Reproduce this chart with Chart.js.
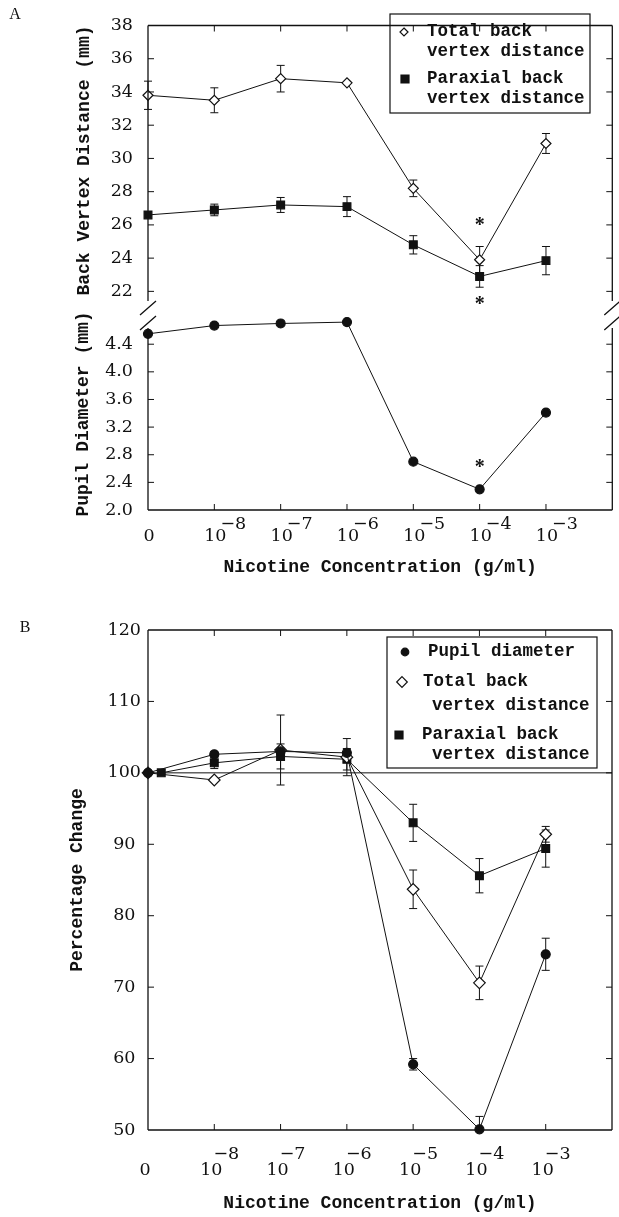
<!DOCTYPE html>
<html>
<head>
<meta charset="utf-8">
<script src="https://cdn.jsdelivr.net/npm/chart.js@4.4.1/dist/chart.umd.min.js"></script>
<style>
  html, body { margin: 0; padding: 0; background: #fff; }
  #wrapA { position: absolute; left: 0; top: 0; width: 619px; height: 590px; }
  #wrapB { position: absolute; left: 0; top: 590px; width: 619px; height: 627px; }
</style>
</head>
<body>
<div id="wrapA"><canvas id="chartA"></canvas></div>
<div id="wrapB"><canvas id="chartB"></canvas></div>
<script>
// x axis: 0 = control, then 10^-8 ... 10^-3 g/ml nicotine
const xPos  = [0, 1, 2, 3, 4, 5, 6];
const xBase = ['0', '10', '10', '10', '10', '10', '10'];
const xExp  = ['', '\u22128', '\u22127', '\u22126', '\u22125', '\u22124', '\u22123'];

// panel A - absolute values (mm)
const totalBVD   = [33.8, 33.5, 34.8, 34.55, 28.2, 23.9, 30.9];
const totalBVDse = [0.85, 0.75, 0.8, 0, 0.5, 0.8, 0.6];
const paraxBVD   = [26.6, 26.9, 27.2, 27.1, 24.8, 22.9, 23.85];
const paraxBVDse = [0, 0.35, 0.45, 0.6, 0.55, 0.65, 0.85];
const pupilDiam  = [4.55, 4.67, 4.70, 4.72, 2.70, 2.30, 3.41];
const bvdTicks   = [22, 24, 26, 28, 30, 32, 34, 36, 38];
const pupilTicks = [2.0, 2.4, 2.8, 3.2, 3.6, 4.0, 4.4];
const legendA    = [['Total back', 'vertex distance'], ['Paraxial back', 'vertex distance']];

// panel B - percentage of control
const pupilPct   = [100, 102.6, 103.0, 102.8, 59.2, 50.1, 74.6];
const pupilPctSe = [0, 0.4, 0.4, 0.5, 0.8, 1.8, 2.25];
const totalPct   = [100, 99.0, 103.2, 102.2, 83.7, 70.6, 91.4];
const totalPctSe = [0, 0, 4.9, 2.6, 2.7, 2.35, 1.1];
const paraxPct   = [100, 101.4, 102.3, 101.9, 93.0, 85.6, 89.4];
const paraxPctSe = [0, 0.8, 1.75, 1.5, 2.6, 2.4, 2.6];
const paraxPctX  = [0.2, 1, 2, 3, 4, 5, 6];
const pctTicks   = [50, 60, 70, 80, 90, 100, 110, 120];
const pctControl = 100;
const legendB    = [['Pupil diameter'], ['Total back', 'vertex distance'], ['Paraxial back', 'vertex distance']];

// significant differences (*) : dataset index, point index
const sigA = [[0, 5], [1, 5], [2, 5]];

const INK = '#111';
const SERIF = 'DejaVu Serif';
const MONO = 'Liberation Mono';
Chart.defaults.font.family = SERIF;
Chart.defaults.color = INK;

function xy(xs, ys) { return xs.map((x, i) => ({x: x, y: ys[i]})); }
function fixTicks(list) { return s => { s.ticks = list.map(v => ({value: v})); }; }

function drawMarker(ctx, style, x, y, r, fill) {
  ctx.beginPath();
  if (style === 'circle') {
    ctx.arc(x, y, r, 0, Math.PI * 2);
  } else if (style === 'rectRot') {
    ctx.moveTo(x, y - r); ctx.lineTo(x + r, y); ctx.lineTo(x, y + r); ctx.lineTo(x - r, y); ctx.closePath();
  } else {
    ctx.rect(x - r, y - r, 2 * r, 2 * r);
  }
  ctx.fillStyle = fill;
  ctx.fill();
  ctx.lineWidth = 1.2;
  ctx.strokeStyle = INK;
  ctx.stroke();
}

const figure = {
  id: 'figure',
  beforeDatasetsDraw(chart, args, o) {
    const {ctx, chartArea: a} = chart;
    ctx.save();
    ctx.strokeStyle = INK;
    ctx.lineWidth = 1;
    if (o.refLine !== undefined) {
      const y = chart.scales.y.getPixelForValue(o.refLine);
      ctx.beginPath(); ctx.moveTo(a.left, y); ctx.lineTo(a.right, y); ctx.stroke();
    }
    // error bars
    ctx.beginPath(); ctx.rect(a.left - 20, a.top, a.width + 40, a.height); ctx.clip();
    chart.data.datasets.forEach((ds, di) => {
      if (!ds.errors) return;
      const meta = chart.getDatasetMeta(di);
      const ys = chart.scales[meta.yAxisID];
      meta.data.forEach((pt, i) => {
        const e = ds.errors[i];
        if (!e) return;
        const v = ds.data[i].y;
        const y1 = ys.getPixelForValue(v + e), y2 = ys.getPixelForValue(v - e);
        ctx.beginPath();
        ctx.moveTo(pt.x, y1); ctx.lineTo(pt.x, y2);
        ctx.moveTo(pt.x - 4, y1); ctx.lineTo(pt.x + 4, y1);
        ctx.moveTo(pt.x - 4, y2); ctx.lineTo(pt.x + 4, y2);
        ctx.stroke();
      });
    });
    ctx.restore();
  },
  afterDraw(chart, args, o) {
    const {ctx, chartArea: a, scales} = chart;
    ctx.save();
    ctx.strokeStyle = INK;
    ctx.fillStyle = INK;
    ctx.lineWidth = 1.3;

    // frame, with optional axis break
    ctx.beginPath();
    ctx.moveTo(a.left, a.top); ctx.lineTo(a.right, a.top);
    ctx.moveTo(a.left, a.bottom); ctx.lineTo(a.right, a.bottom);
    if (o.breakAxis) {
      const yb = scales[o.breakAxis].top;
      [a.left, a.right].forEach(x => {
        ctx.moveTo(x, a.top); ctx.lineTo(x, yb - 17);
        ctx.moveTo(x, yb + 10); ctx.lineTo(x, a.bottom);
        ctx.moveTo(x - 8, yb - 3); ctx.lineTo(x + 8, yb - 17);
        ctx.moveTo(x - 8, yb + 12); ctx.lineTo(x + 8, yb - 2);
      });
    } else {
      ctx.moveTo(a.left, a.top); ctx.lineTo(a.left, a.bottom);
      ctx.moveTo(a.right, a.top); ctx.lineTo(a.right, a.bottom);
    }
    ctx.stroke();

    // inward ticks on all four sides
    const tl = 6;
    ctx.lineWidth = 1;
    ctx.beginPath();
    Object.values(scales).forEach(s => {
      s.ticks.forEach(t => {
        const p = s.getPixelForValue(t.value);
        if (s.isHorizontal()) {
          if (p <= a.left + 1 || p >= a.right - 1) return;
          ctx.moveTo(p, a.top); ctx.lineTo(p, a.top + tl);
          ctx.moveTo(p, a.bottom); ctx.lineTo(p, a.bottom - tl);
        } else {
          if (p <= a.top + 1 || p >= a.bottom - 1) return;
          ctx.moveTo(a.left, p); ctx.lineTo(a.left + tl, p);
          ctx.moveTo(a.right, p); ctx.lineTo(a.right - tl, p);
        }
      });
    });
    ctx.stroke();

    // x tick labels: 10 with the exponent set above right
    const xs = scales.x;
    ctx.font = '17.5px "' + SERIF + '"';
    ctx.textAlign = 'center';
    ctx.textBaseline = 'middle';
    xPos.forEach((v, i) => {
      const px = xs.getPixelForValue(v);
      ctx.fillText(xBase[i], px + o.xl.baseDx, xs.top + o.xl.baseDy);
      if (xExp[i]) ctx.fillText(xExp[i], px + o.xl.expDx, xs.top + o.xl.expDy);
    });

    // significance marks
    (o.sig || []).forEach(([di, i, dy]) => {
      const pt = chart.getDatasetMeta(di).data[i];
      ctx.font = 'bold 20px "Liberation Serif"';
      const m = ctx.measureText('*');
      const h = m.actualBoundingBoxAscent - m.actualBoundingBoxDescent;
      ctx.textBaseline = 'alphabetic';
      ctx.fillText('*', pt.x, pt.y + dy + h / 2);
    });

    // panel letter
    ctx.font = '16px "Liberation Serif"';
    ctx.textAlign = 'center';
    ctx.textBaseline = 'middle';
    ctx.fillText(o.letter[0], o.letter[1], o.letter[2]);

    // legend box
    const L = o.legend;
    ctx.lineWidth = 1.2;
    ctx.strokeRect(L.box[0], L.box[1], L.box[2] - L.box[0], L.box[3] - L.box[1]);
    ctx.font = 'bold 17.5px "' + MONO + '"';
    ctx.textAlign = 'left';
    L.items.forEach((it, k) => {
      const ds = chart.data.datasets[it.ds];
      drawMarker(ctx, ds.pointStyle, it.m[0], it.m[1], it.m[2], ds.pointBackgroundColor);
      ctx.fillStyle = INK;
      L.labels[k].forEach((txt, j) => ctx.fillText(txt, it.t[j][0], it.t[j][1]));
    });
    ctx.restore();
  }
};

function lineSet(label, data, yAxisID, errors, style, r, fill) {
  return {
    label: label, data: data, yAxisID: yAxisID, errors: errors,
    pointStyle: style, pointRadius: r, pointHoverRadius: r,
    pointBackgroundColor: fill, pointBorderColor: INK, pointBorderWidth: 1.2,
    borderColor: INK, borderWidth: 1, tension: 0, fill: false, clip: false
  };
}

const tickFont = {family: SERIF, size: 17.5};
const titleFont = {family: MONO, size: 18, weight: 'bold'};
const noGrid = {display: false, drawTicks: false};

// ---------- panel A ----------
new Chart(document.getElementById('chartA'), {
  type: 'line',
  data: {
    datasets: [
      lineSet('Total back vertex distance', xy(xPos, totalBVD), 'yTop', totalBVDse, 'rectRot', 5, '#fff'),
      lineSet('Paraxial back vertex distance', xy(xPos, paraxBVD), 'yTop', paraxBVDse, 'rect', 5.5, INK),
      lineSet('Pupil diameter', xy(xPos, pupilDiam), 'yBot', null, 'circle', 4.5, INK)
    ]
  },
  options: {
    responsive: true, maintainAspectRatio: false, animation: false,
    layout: {padding: {top: 13, right: 2, left: 0, bottom: 0}},
    plugins: {
      legend: {display: false}, tooltip: {enabled: false},
      figure: {
        breakAxis: 'yBot',
        xl: {baseDx: 1, baseDy: 26, expDx: 19, expDy: 14},
        sig: [[sigA[0][0], sigA[0][1], -34], [sigA[1][0], sigA[1][1], 24], [sigA[2][0], sigA[2][1], -26]],
        letter: ['A', 15, 15],
        legend: {
          box: [390, 14, 590, 113], labels: legendA,
          items: [
            {ds: 0, m: [404, 32, 4], t: [[427, 32], [427, 52]]},
            {ds: 1, m: [405, 79, 4], t: [[427, 79], [427, 99]]}
          ]
        }
      }
    },
    scales: {
      x: {
        type: 'linear', position: 'bottom', min: 0, max: 7,
        afterBuildTicks: fixTicks(xPos),
        ticks: {display: false}, grid: noGrid, border: {display: false},
        title: {display: true, text: 'Nicotine Concentration (g/ml)', font: titleFont, padding: {top: 0, bottom: 12}},
        afterFit: s => { s.height = 80; }
      },
      yBot: {
        type: 'linear', position: 'left', stack: 'a', stackWeight: 197, min: 2.0, max: 4.78,
        afterBuildTicks: fixTicks(pupilTicks),
        ticks: {font: tickFont, padding: 15, autoSkip: false, callback: v => v.toFixed(1)},
        grid: noGrid, border: {display: false},
        title: {display: true, text: 'Pupil Diameter (mm)', font: titleFont, padding: {top: 73, bottom: 0}},
        afterFit: s => { s.width = 148; }
      },
      yTop: {
        type: 'linear', position: 'left', stack: 'a', stackWeight: 300, min: 20.4, max: 38,
        afterBuildTicks: fixTicks(bvdTicks),
        ticks: {font: tickFont, padding: 15, autoSkip: false, callback: v => String(v)},
        grid: noGrid, border: {display: false},
        title: {display: true, text: 'Back Vertex Distance (mm)', align: 'end', font: titleFont, padding: {top: 74, bottom: 0}},
        afterFit: s => { s.width = 148; }
      }
    }
  },
  plugins: [figure]
});

// ---------- panel B ----------
new Chart(document.getElementById('chartB'), {
  type: 'line',
  data: {
    datasets: [
      lineSet('Pupil diameter', xy(xPos, pupilPct), 'y', pupilPctSe, 'circle', 4.5, INK),
      lineSet('Total back vertex distance', xy(xPos, totalPct), 'y', totalPctSe, 'rectRot', 5.8, '#fff'),
      lineSet('Paraxial back vertex distance', xy(paraxPctX, paraxPct), 'y', paraxPctSe, 'rect', 5.5, INK)
    ]
  },
  options: {
    responsive: true, maintainAspectRatio: false, animation: false,
    layout: {padding: {top: 40, right: 2, left: 0, bottom: 0}},
    plugins: {
      legend: {display: false}, tooltip: {enabled: false},
      figure: {
        refLine: pctControl,
        xl: {baseDx: -3, baseDy: 40, expDx: 12, expDy: 24},
        letter: ['B', 25, 38],
        legend: {
          box: [387, 47, 597, 178], labels: legendB,
          items: [
            {ds: 0, m: [405, 62, 3.8], t: [[428, 62]]},
            {ds: 1, m: [402, 92, 5.3], t: [[423, 92], [432, 116]]},
            {ds: 2, m: [399, 145, 4], t: [[422, 145], [432, 165]]}
          ]
        }
      }
    },
    scales: {
      x: {
        type: 'linear', position: 'bottom', min: 0, max: 7,
        afterBuildTicks: fixTicks(xPos),
        ticks: {display: false}, grid: noGrid, border: {display: false},
        title: {display: true, text: 'Nicotine Concentration (g/ml)', font: titleFont, padding: {top: 0, bottom: 3}},
        afterFit: s => { s.height = 87; }
      },
      y: {
        type: 'linear', position: 'left', min: 50, max: 120,
        afterBuildTicks: fixTicks(pctTicks),
        ticks: {font: tickFont, padding: 7, autoSkip: false, crossAlign: 'center'},
        grid: noGrid, border: {display: false},
        title: {display: true, text: 'Percentage Change', font: titleFont, padding: {top: 67, bottom: 0}},
        afterFit: s => { s.width = 148; }
      }
    }
  },
  plugins: [figure]
});
</script>
</body>
</html>
